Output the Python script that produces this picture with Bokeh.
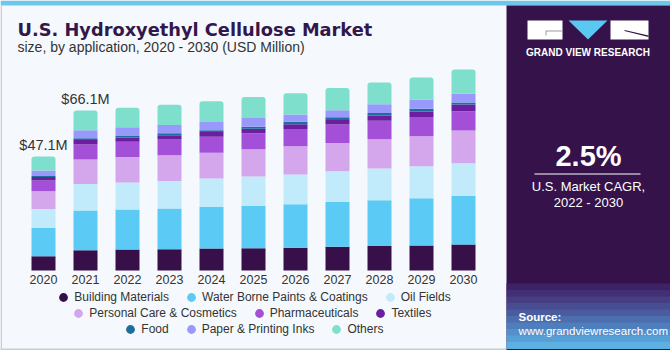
from bokeh.plotting import figure
from bokeh.models import (Range1d, Label, BoxAnnotation, PolyAnnotation, Legend,
                          LegendItem, ColumnDataSource)
from bokeh.core.properties import value
from bokeh.embed import file_html
from bokeh.resources import INLINE

# ---------------- data ----------------
years = [2020, 2021, 2022, 2023, 2024, 2025, 2026, 2027, 2028, 2029, 2030]
segments = ["Building Materials", "Water Borne Paints & Coatings", "Oil Fields",
            "Personal Care & Cosmetics", "Pharmaceuticals", "Textiles", "Food",
            "Paper & Printing Inks", "Others"]
building = [5.9, 8.4, 8.7, 8.8, 9.1, 9.2, 9.4, 9.8, 10.1, 10.3, 10.7]
waterborne = [11.8, 16.4, 16.5, 16.8, 17.1, 17.5, 18.0, 18.5, 18.9, 19.6, 20.2]
oilfields = [7.7, 10.9, 11.2, 11.4, 11.8, 12.1, 12.3, 12.7, 13.2, 13.2, 13.4]
personal = [7.3, 10.2, 10.5, 10.6, 10.7, 11.3, 11.6, 11.7, 12.0, 12.4, 13.5]
pharma = [4.5, 6.2, 6.3, 6.5, 6.6, 6.6, 7.2, 7.6, 7.7, 7.9, 8.0]
textiles = [1.4, 1.8, 1.8, 1.8, 1.9, 1.9, 1.9, 1.9, 2.1, 2.3, 2.8]
food = [0.4, 0.7, 0.8, 0.8, 0.8, 0.8, 1.1, 1.1, 1.1, 1.1, 0.8]
paper = [2.3, 3.4, 3.4, 3.4, 3.4, 3.6, 3.0, 2.9, 3.6, 3.9, 3.7]
others = [5.8, 8.1, 8.1, 8.4, 8.5, 8.7, 8.7, 9.2, 9.0, 9.1, 10.0]
colors = ["#371049", "#5bcbf5", "#c1eafb", "#d4a7ec", "#a44fd8", "#6b1fa0",
          "#1b6f9b", "#9999fb", "#7ee0cc"]
label_years = [2020, 2021]
label_values = [47.1, 66.1]
label_texts = ["$47.1M", "$66.1M"]
legend_rows = [[0, 1, 2], [3, 4, 5], [6, 7, 8]]

# ---------------- layout constants ----------------
W, H = 670, 350
BG = "#f5f9fd"
PANEL = "#35124a"
FONT = "Liberation Sans"
PX_X = 42.0          # px per year
X0 = 43.0            # px position of first bar centre
BASE = 80.0          # baseline px from bottom
PX_Y = 2.42          # px per USD million

def Y(top):
    return H - top

xs = years[0] - X0 / PX_X
ys = -BASE / PX_Y
p = figure(width=W, height=H,
           x_range=Range1d(xs, xs + W / PX_X),
           y_range=Range1d(ys, ys + H / PX_Y),
           output_backend="svg", toolbar_location=None,
           x_axis_location=None, y_axis_location=None,
           min_border=0, outline_line_color=None,
           background_fill_color=BG, border_fill_color=BG)
p.grid.visible = False

src = ColumnDataSource(dict(years=years, building=building, waterborne=waterborne,
                            oilfields=oilfields, personal=personal, pharma=pharma,
                            textiles=textiles, food=food, paper=paper, others=others))
keys = ["building", "waterborne", "oilfields", "personal", "pharma", "textiles",
        "food", "paper", "others"]
rs = p.vbar_stack(keys, x="years", width=24 / PX_X, fill_color=colors,
                  line_color=None, source=src)
rs[-1].glyph.border_radius = (3, 3, 0, 0)

# year labels
p.text(x=years, y=[0] * len(years), text=[str(y) for y in years],
       text_font=value(FONT), text_font_size="12.5px", text_color="#333333",
       text_align="center", text_baseline="middle", y_offset=9)

# total labels
p.text(x=label_years, y=label_values, text=label_texts,
       text_font=value(FONT), text_font_size="14.5px", text_color="#333333",
       text_align="center", text_baseline="alphabetic", y_offset=-12)

# ---------------- frame decorations ----------------
def box(l, r, t, b, color):
    p.add_layout(BoxAnnotation(left=l, right=r, bottom=Y(b), top=Y(t),
                               left_units="screen", right_units="screen",
                               bottom_units="screen", top_units="screen",
                               fill_color=color, fill_alpha=1, line_color=None))

box(0, W, 0, 5, "#6ec6ea")
box(0, 1.5, 5, 350, "#c9ccd2")
box(0, 506, 348, 350, "#c9ccd2")

# right panel
box(506, W, 5, 350, PANEL)
grad = ["#3d2363", "#432f74", "#463d82", "#484c91", "#4a5c9f", "#4c6dae",
        "#4f7ebd", "#538fcb", "#57a0d7", "#5cb0e2"]
top = 283
step = (348 - 283) / len(grad)
for i, c in enumerate(grad):
    box(506, W, top + i * step, top + (i + 1) * step + 0.5, c)

# logo
box(527, 562, 20, 39, "white")
box(610, 648, 20, 39, "white")
p.add_layout(PolyAnnotation(xs=[568, 607, 587.5], ys=[Y(20), Y(20), Y(39)],
                            xs_units="screen", ys_units="screen",
                            fill_color="#5ac8f0", fill_alpha=1, line_color=None))
p.add_layout(PolyAnnotation(xs=[545, 562, 562, 546, 546, 545],
                            ys=[Y(30), Y(30), Y(31), Y(31), Y(35), Y(35)],
                            xs_units="screen", ys_units="screen",
                            fill_color="#9a9aa8", fill_alpha=1, line_color=None))
p.add_layout(PolyAnnotation(xs=[624, 648, 648, 624], ys=[Y(29.5), Y(35), Y(36.5), Y(30.5)],
                            xs_units="screen", ys_units="screen",
                            fill_color="#35124a", fill_alpha=1, line_color=None))

def lab(x, base, text, size, color, bold=False, align="left", font=FONT):
    # shift so that the glyph baseline lands at `base` (px from top)
    shift = 0.33 * size
    p.add_layout(Label(x=x, y=Y(base - shift), x_units="screen", y_units="screen",
                       text=text, text_font=font, text_font_size=f"{size}px",
                       text_color=color,
                       text_font_style="bold" if bold else "normal",
                       text_align=align, text_baseline="alphabetic"))

lab(587.5, 55, "GRAND VIEW RESEARCH", 10, "white", bold=True, align="center")
lab(588, 165, "2.5%", 29, "white", bold=True, align="center")
box(534, 640, 173, 174, "white")
lab(588, 190, "U.S. Market CAGR,", 13, "white", align="center")
lab(588, 206, "2022 - 2030", 13, "white", align="center")
lab(518, 320, "Source:", 11.5, "white", bold=True)
lab(518, 334, "www.grandviewresearch.com", 11.5, "white")

# titles
lab(17, 35, "U.S. Hydroxyethyl Cellulose Market", 17.8, "#33174a", bold=True,
    font="DejaVu Sans")
lab(17, 51, "size, by application, 2020 - 2030 (USD Million)", 14, "#333333")

# ---------------- legend ----------------
nan = float("nan")
dummies = [p.scatter(x=[nan], y=[nan], marker="circle", size=9, fill_color=c,
                     line_color=None) for c in colors]
row_left = [52.3, 67.3, 119.3]
row_center = [296.7, 312.7, 328.7]
for row, lx, cy in zip(legend_rows, row_left, row_center):
    items = [LegendItem(label=segments[i], renderers=[dummies[i]]) for i in row]
    leg = Legend(items=items, orientation="horizontal", location=(lx, Y(cy + 11)),
                 glyph_width=22, glyph_height=22, label_standoff=0, spacing=11,
                 padding=0, margin=0, background_fill_alpha=0, border_line_alpha=0,
                 label_text_font=FONT, label_text_font_size="12px",
                 label_text_color="#333333")
    p.add_layout(leg)

open("out.html", "w").write(file_html(p, INLINE))
